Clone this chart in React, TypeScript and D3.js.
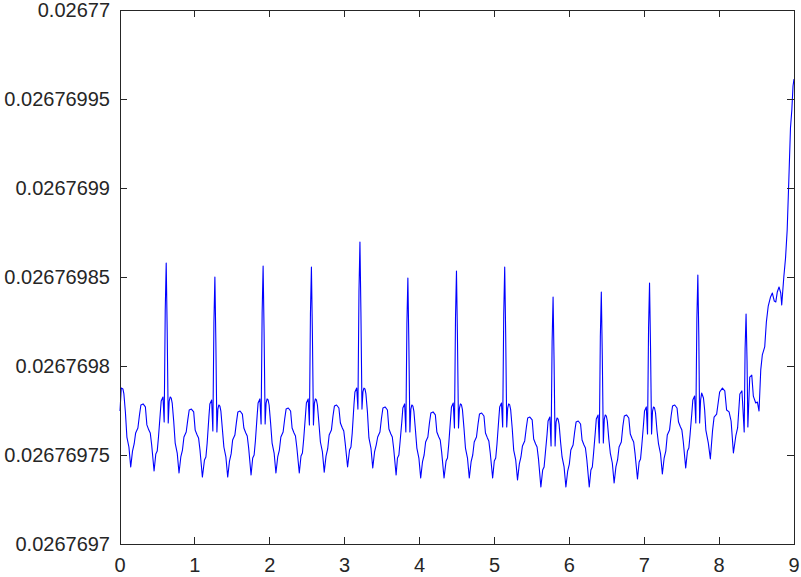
import React from 'react';
import * as d3 from 'd3';

// x positions of the samples
const xValues: number[] = [
  // start .. first spike
  0.000, 0.017, 0.039, 0.052, 0.072, 0.092, 0.119, 0.143, 0.167, 0.189, 0.209, 0.239, 0.260, 0.279, 0.308, 0.339, 0.359, 0.385, 0.404, 0.423, 0.455, 0.478, 0.497, 0.514, 0.537, 0.550, 0.574, 0.590, 0.604, 0.617,
  // spike 1 .. spike 2
  0.630, 0.644, 0.657, 0.670, 0.684, 0.697, 0.717, 0.737, 0.764, 0.788, 0.812, 0.834, 0.854, 0.884, 0.905, 0.924, 0.953, 0.984, 1.004, 1.030, 1.049, 1.068, 1.100, 1.128, 1.147, 1.164, 1.187, 1.200, 1.224, 1.240, 1.254, 1.267,
  // spike 2 .. spike 3
  1.280, 1.294, 1.307, 1.320, 1.334, 1.347, 1.367, 1.387, 1.414, 1.438, 1.462, 1.484, 1.504, 1.534, 1.555, 1.574, 1.603, 1.634, 1.654, 1.680, 1.699, 1.718, 1.750, 1.772, 1.791, 1.808, 1.831, 1.844, 1.868, 1.884, 1.898, 1.911,
  // spike 3 .. spike 4
  1.924, 1.938, 1.951, 1.964, 1.978, 1.991, 2.011, 2.031, 2.058, 2.082, 2.106, 2.128, 2.148, 2.178, 2.199, 2.218, 2.247, 2.278, 2.298, 2.324, 2.343, 2.362, 2.394, 2.417, 2.436, 2.453, 2.476, 2.489, 2.513, 2.529, 2.543, 2.556,
  // spike 4 .. spike 5
  2.569, 2.583, 2.596, 2.609, 2.623, 2.636, 2.656, 2.676, 2.703, 2.727, 2.751, 2.773, 2.793, 2.823, 2.844, 2.863, 2.892, 2.923, 2.943, 2.969, 2.988, 3.007, 3.039, 3.065, 3.084, 3.101, 3.124, 3.137, 3.161, 3.177, 3.191, 3.204,
  // spike 5 .. spike 6
  3.217, 3.231, 3.244, 3.257, 3.271, 3.284, 3.304, 3.324, 3.351, 3.375, 3.399, 3.421, 3.441, 3.471, 3.492, 3.511, 3.540, 3.571, 3.591, 3.617, 3.636, 3.655, 3.687, 3.705, 3.724, 3.741, 3.764, 3.777, 3.801, 3.817, 3.831, 3.844,
  // spike 6 .. spike 7
  3.857, 3.871, 3.884, 3.897, 3.911, 3.924, 3.944, 3.964, 3.991, 4.015, 4.039, 4.061, 4.081, 4.111, 4.132, 4.151, 4.180, 4.211, 4.231, 4.257, 4.276, 4.295, 4.327, 4.354, 4.373, 4.390, 4.413, 4.426, 4.450, 4.466, 4.480, 4.493,
  // spike 7 .. spike 8
  4.506, 4.520, 4.533, 4.546, 4.560, 4.573, 4.593, 4.613, 4.640, 4.664, 4.688, 4.710, 4.730, 4.760, 4.781, 4.800, 4.829, 4.860, 4.880, 4.906, 4.925, 4.944, 4.976, 4.998, 5.017, 5.034, 5.057, 5.070, 5.094, 5.110, 5.124, 5.137,
  // spike 8 .. spike 9
  5.150, 5.164, 5.177, 5.190, 5.204, 5.217, 5.237, 5.257, 5.284, 5.308, 5.332, 5.354, 5.374, 5.404, 5.425, 5.444, 5.473, 5.504, 5.524, 5.550, 5.569, 5.588, 5.620, 5.644, 5.663, 5.680, 5.703, 5.716, 5.740, 5.756, 5.770, 5.783,
  // spike 9 .. spike 10
  5.796, 5.810, 5.823, 5.836, 5.850, 5.863, 5.883, 5.903, 5.930, 5.954, 5.978, 6.000, 6.020, 6.050, 6.071, 6.090, 6.119, 6.150, 6.170, 6.196, 6.215, 6.234, 6.266, 6.288, 6.307, 6.324, 6.347, 6.360, 6.384, 6.400, 6.414, 6.427,
  // spike 10 .. spike 11
  6.440, 6.454, 6.467, 6.480, 6.494, 6.507, 6.527, 6.547, 6.574, 6.598, 6.622, 6.644, 6.664, 6.694, 6.715, 6.734, 6.763, 6.794, 6.814, 6.840, 6.859, 6.878, 6.910, 6.932, 6.951, 6.968, 6.991, 7.004, 7.028, 7.044, 7.058, 7.071,
  // spike 11 .. spike 12
  7.084, 7.098, 7.111, 7.124, 7.138, 7.151, 7.171, 7.191, 7.218, 7.242, 7.266, 7.288, 7.308, 7.338, 7.359, 7.378, 7.407, 7.438, 7.458, 7.484, 7.503, 7.522, 7.554, 7.577, 7.596, 7.613, 7.636, 7.649, 7.673, 7.689, 7.703, 7.716,
  // spike 12 .. end
  7.729, 7.740, 7.753, 7.767, 7.791, 7.807, 7.823, 7.856, 7.883, 7.913, 7.933, 7.967, 8.007, 8.044, 8.076, 8.100, 8.133, 8.160, 8.191, 8.223,
  8.247, 8.277, 8.305, 8.335, 8.347, 8.360, 8.373, 8.384, 8.409, 8.436, 8.457, 8.489, 8.511, 8.533, 8.556, 8.577, 8.609, 8.631, 8.656, 8.687,
  8.711, 8.737, 8.757, 8.777, 8.800, 8.823, 8.836, 8.864, 8.887, 8.909, 8.931, 8.953, 8.971, 8.987, 9.000,
];

// y values of the samples
const yValues: number[] = [
  0.0267697747, 0.0267697876, 0.0267697871, 0.0267697843, 0.0267697742, 0.0267697601, 0.0267697545, 0.0267697433, 0.0267697522, 0.0267697562, 0.0267697624, 0.0267697652, 0.0267697725, 0.0267697781, 0.0267697787, 0.0267697770, 0.0267697669, 0.0267697640, 0.0267697624, 0.0267697556, 0.0267697410, 0.0267697506, 0.0267697522, 0.0267697601, 0.0267697730, 0.0267697803, 0.0267697826, 0.0267697685, 0.0267698309, 0.0267698579,

  0.0267698202, 0.0267697680, 0.0267697803, 0.0267697826, 0.0267697820, 0.0267697792, 0.0267697691, 0.0267697567, 0.0267697511, 0.0267697399, 0.0267697489, 0.0267697528, 0.0267697601, 0.0267697629, 0.0267697697, 0.0267697753, 0.0267697758, 0.0267697742, 0.0267697640, 0.0267697612, 0.0267697596, 0.0267697528, 0.0267697376, 0.0267697472, 0.0267697489, 0.0267697567, 0.0267697713, 0.0267697787, 0.0267697809, 0.0267697635, 0.0267698242, 0.0267698500,

  0.0267698135, 0.0267697629, 0.0267697758, 0.0267697781, 0.0267697775, 0.0267697747, 0.0267697646, 0.0267697545, 0.0267697489, 0.0267697376, 0.0267697466, 0.0267697506, 0.0267697584, 0.0267697612, 0.0267697685, 0.0267697742, 0.0267697747, 0.0267697730, 0.0267697652, 0.0267697624, 0.0267697607, 0.0267697539, 0.0267697388, 0.0267697483, 0.0267697500, 0.0267697579, 0.0267697719, 0.0267697792, 0.0267697815, 0.0267697674, 0.0267698298, 0.0267698562,

  0.0267698191, 0.0267697674, 0.0267697792, 0.0267697815, 0.0267697809, 0.0267697781, 0.0267697680, 0.0267697567, 0.0267697511, 0.0267697399, 0.0267697489, 0.0267697528, 0.0267697601, 0.0267697629, 0.0267697702, 0.0267697758, 0.0267697764, 0.0267697747, 0.0267697652, 0.0267697624, 0.0267697607, 0.0267697539, 0.0267697399, 0.0267697494, 0.0267697511, 0.0267697590, 0.0267697719, 0.0267697792, 0.0267697815, 0.0267697669, 0.0267698292, 0.0267698556,

  0.0267698185, 0.0267697669, 0.0267697792, 0.0267697815, 0.0267697809, 0.0267697781, 0.0267697680, 0.0267697573, 0.0267697517, 0.0267697404, 0.0267697494, 0.0267697534, 0.0267697612, 0.0267697640, 0.0267697719, 0.0267697775, 0.0267697781, 0.0267697764, 0.0267697680, 0.0267697652, 0.0267697635, 0.0267697567, 0.0267697433, 0.0267697528, 0.0267697545, 0.0267697624, 0.0267697781, 0.0267697854, 0.0267697876, 0.0267697758, 0.0267698416, 0.0267698697,

  0.0267698303, 0.0267697758, 0.0267697854, 0.0267697876, 0.0267697871, 0.0267697843, 0.0267697742, 0.0267697596, 0.0267697539, 0.0267697427, 0.0267697517, 0.0267697556, 0.0267697601, 0.0267697629, 0.0267697708, 0.0267697764, 0.0267697770, 0.0267697753, 0.0267697646, 0.0267697618, 0.0267697601, 0.0267697534, 0.0267697388, 0.0267697483, 0.0267697500, 0.0267697579, 0.0267697691, 0.0267697764, 0.0267697787, 0.0267697629, 0.0267698236, 0.0267698494,

  0.0267698129, 0.0267697629, 0.0267697758, 0.0267697781, 0.0267697775, 0.0267697747, 0.0267697646, 0.0267697539, 0.0267697483, 0.0267697371, 0.0267697461, 0.0267697500, 0.0267697573, 0.0267697601, 0.0267697680, 0.0267697736, 0.0267697742, 0.0267697725, 0.0267697629, 0.0267697601, 0.0267697584, 0.0267697517, 0.0267697371, 0.0267697466, 0.0267697483, 0.0267697562, 0.0267697697, 0.0267697770, 0.0267697792, 0.0267697652, 0.0267698270, 0.0267698534,

  0.0267698163, 0.0267697652, 0.0267697764, 0.0267697787, 0.0267697781, 0.0267697753, 0.0267697652, 0.0267697539, 0.0267697483, 0.0267697371, 0.0267697461, 0.0267697500, 0.0267697573, 0.0267697601, 0.0267697674, 0.0267697730, 0.0267697736, 0.0267697719, 0.0267697624, 0.0267697596, 0.0267697579, 0.0267697511, 0.0267697371, 0.0267697466, 0.0267697483, 0.0267697562, 0.0267697697, 0.0267697770, 0.0267697792, 0.0267697657, 0.0267698287, 0.0267698556,

  0.0267698180, 0.0267697657, 0.0267697764, 0.0267697787, 0.0267697781, 0.0267697753, 0.0267697652, 0.0267697528, 0.0267697472, 0.0267697360, 0.0267697449, 0.0267697489, 0.0267697551, 0.0267697579, 0.0267697652, 0.0267697708, 0.0267697713, 0.0267697697, 0.0267697590, 0.0267697562, 0.0267697545, 0.0267697478, 0.0267697320, 0.0267697416, 0.0267697433, 0.0267697511, 0.0267697618, 0.0267697691, 0.0267697713, 0.0267697551, 0.0267698135, 0.0267698388,

  0.0267698034, 0.0267697551, 0.0267697685, 0.0267697708, 0.0267697702, 0.0267697674, 0.0267697573, 0.0267697489, 0.0267697433, 0.0267697320, 0.0267697410, 0.0267697449, 0.0267697528, 0.0267697556, 0.0267697629, 0.0267697685, 0.0267697691, 0.0267697674, 0.0267697584, 0.0267697556, 0.0267697539, 0.0267697472, 0.0267697320, 0.0267697416, 0.0267697433, 0.0267697511, 0.0267697629, 0.0267697702, 0.0267697725, 0.0267697567, 0.0267698163, 0.0267698416,

  0.0267698062, 0.0267697567, 0.0267697702, 0.0267697725, 0.0267697719, 0.0267697691, 0.0267697590, 0.0267697511, 0.0267697455, 0.0267697343, 0.0267697433, 0.0267697472, 0.0267697545, 0.0267697573, 0.0267697663, 0.0267697719, 0.0267697725, 0.0267697708, 0.0267697618, 0.0267697590, 0.0267697573, 0.0267697506, 0.0267697365, 0.0267697461, 0.0267697478, 0.0267697556, 0.0267697674, 0.0267697747, 0.0267697770, 0.0267697618, 0.0267698213, 0.0267698466,

  0.0267698112, 0.0267697618, 0.0267697747, 0.0267697770, 0.0267697764, 0.0267697736, 0.0267697635, 0.0267697562, 0.0267697506, 0.0267697393, 0.0267697483, 0.0267697522, 0.0267697612, 0.0267697640, 0.0267697719, 0.0267697775, 0.0267697781, 0.0267697764, 0.0267697685, 0.0267697657, 0.0267697640, 0.0267697573, 0.0267697427, 0.0267697522, 0.0267697539, 0.0267697618, 0.0267697736, 0.0267697809, 0.0267697831, 0.0267697680, 0.0267698264, 0.0267698511,

  0.0267698163, 0.0267697680, 0.0267697809, 0.0267697848, 0.0267697820, 0.0267697753, 0.0267697640, 0.0267697567, 0.0267697478, 0.0267697640, 0.0267697713, 0.0267697730, 0.0267697854, 0.0267697876, 0.0267697860, 0.0267697753, 0.0267697742, 0.0267697691, 0.0267697511, 0.0267697607,
  0.0267697652, 0.0267697843, 0.0267697860, 0.0267697629, 0.0267698096, 0.0267698292, 0.0267698028, 0.0267697657, 0.0267697938, 0.0267697949, 0.0267697831, 0.0267697792, 0.0267697798, 0.0267697747, 0.0267697978, 0.0267698062, 0.0267698107, 0.0267698247, 0.0267698337, 0.0267698388,
  0.0267698410, 0.0267698365, 0.0267698360, 0.0267698416, 0.0267698444, 0.0267698410, 0.0267698343, 0.0267698500, 0.0267698607, 0.0267698764, 0.0267699045, 0.0267699337, 0.0267699438, 0.0267699573, 0.0267699612,
];

const xTickValues = [0, 1, 2, 3, 4, 5, 6, 7, 8, 9];
const yTickValues = [0.0267697, 0.02676975, 0.0267698, 0.02676985, 0.0267699, 0.02676995, 0.02677];
const yTickLabels = ['0.0267697', '0.02676975', '0.0267698', '0.02676985', '0.0267699', '0.02676995', '0.02677'];

const WIDTH = 801;
const HEIGHT = 577;
const LEFT = 120;
const RIGHT = 794;
const TOP = 10;
const BOTTOM = 544;
const TICK = 7;
const AXIS_COLOR = '#262626';
const FONT = '"Liberation Sans", Arial, Helvetica, sans-serif';

export default function App() {
  const x = d3.scaleLinear().domain([0, 9]).range([LEFT, RIGHT]);
  const y = d3.scaleLinear().domain([0.0267697, 0.02677]).range([BOTTOM, TOP]);

  const line = d3
    .line<number>()
    .x((_, i) => x(xValues[i]))
    .y((d) => y(d));
  const pathD = line(yValues) || '';

  return (
    <svg
      width={WIDTH}
      height={HEIGHT}
      style={{ position: 'absolute', left: 0, top: 0, background: '#ffffff' }}
    >
      <rect x={0} y={0} width={WIDTH} height={HEIGHT} fill="#ffffff" />
      <path d={pathD} fill="none" stroke="#0000ff" strokeWidth={1.1} strokeLinejoin="round" />
      <rect
        x={LEFT}
        y={TOP}
        width={RIGHT - LEFT}
        height={BOTTOM - TOP}
        fill="none"
        stroke={AXIS_COLOR}
        strokeWidth={1}
        shapeRendering="crispEdges"
      />
      <g stroke={AXIS_COLOR} strokeWidth={1} shapeRendering="crispEdges">
        {xTickValues.map((t) => (
          <g key={'xt' + t}>
            <line x1={x(t)} x2={x(t)} y1={BOTTOM} y2={BOTTOM - TICK} />
            <line x1={x(t)} x2={x(t)} y1={TOP} y2={TOP + TICK} />
          </g>
        ))}
        {yTickValues.map((t, i) => (
          <g key={'yt' + i}>
            <line x1={LEFT} x2={LEFT + TICK} y1={y(t)} y2={y(t)} />
            <line x1={RIGHT} x2={RIGHT - TICK} y1={y(t)} y2={y(t)} />
          </g>
        ))}
      </g>
      <g fill={AXIS_COLOR} fontFamily={FONT} fontSize={20}>
        {xTickValues.map((t) => (
          <text key={'xl' + t} x={x(t)} y={572} textAnchor="middle">
            {String(t)}
          </text>
        ))}
        {yTickValues.map((t, i) => (
          <text key={'yl' + i} x={110} y={y(t)} dy="0.35em" textAnchor="end">
            {yTickLabels[i]}
          </text>
        ))}
      </g>
    </svg>
  );
}
